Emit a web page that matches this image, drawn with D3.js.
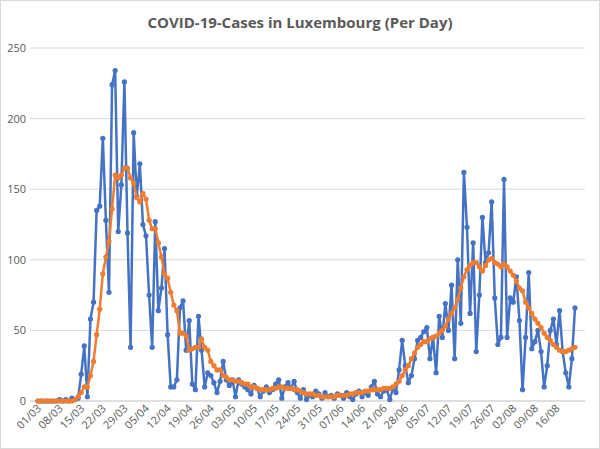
<!DOCTYPE html>
<html><head><meta charset="utf-8">
<script src="https://cdn.jsdelivr.net/npm/d3@7"></script>
<style>body{margin:0;background:#fff}svg{font-family:"Open Sans",Calibri,sans-serif}</style>
</head><body><svg id="c" width="600" height="449"></svg>
<script>
// daily new cases, starting 01/03
var cases = [0,0,0,0,0,0,0,1,0,1,0,2,1,2,
 19,39,3,58,70,135,138,186,128,77,224,234,120,153,226,119,38,190,145,168,125,117,75,38,127,64,80,108,47,10,10,15,
 66,71,36,57,12,8,60,36,10,20,18,13,6,14,28,15,11,15,3,15,
 12,10,8,5,11,9,3,7,10,6, 8,12,15,2,10,13,9,14,6,2, 8,1,4,3,7,5,2,6,3,4, 2,5,4,2,6,3,1,5,7,3, 6,4,10,14,5,3,7,
 8,1,9,6,22,43,25,13,18,30,43,45,49,52,30,45,20,60,45,69,50,82,30,100,55,162,123,62,112,35,75,130,98,105,141,73,40,45,157,45,73,70,88,57,8,45,91,37,42,50,35,10,25,50,58,40,64,35,20,10,30,66];
// smoothed (orange)
var avg = [0,0,0,0,0,0,0,0,0,0,0,0,1,
 3,6,10,10,18,28,47,65,
 90,102,113,136,160,158,160,165,165,158,
 154,144,141,147,143,128,122,122,112,102,
 90,87,77,68,64,48,48,46,36,37,
 38,38,44,38,36,28,25,22,22,18,
 17,15,15,14,14,13,12,12,10,10,
 9,8,8,8,8,9,9,10,10,9,
 9,9,8,8,7,6,5,5,5,4,
 4,3,3,3,3,3,4,4,4,4,
 5,5,6,6,6,7,7,8,8,8,
 8,9,9,9,10,12,14,18,22,25,
 30,34,38,40,42,42,44,45,46,48,
 50,53,58,62,66,72,80,88,93,96,
 98,98,95,92,96,100,101,98,97,95,
 97,95,92,89,85,80,78,70,66,62,
 58,55,52,48,45,43,40,38,36,35,
 35,36,37,38];
var tickLabels = ["01/03","08/03","15/03","22/03","29/03","05/04","12/04","19/04","26/04","03/05","10/05","17/05","24/05","31/05","07/06","14/06","21/06","28/06","05/07","12/07","19/07","26/07","02/08","09/08","16/08"];
var yTicks = [0,50,100,150,200,250];

var svg = d3.select("#c");
svg.append("rect").attr("x",0.5).attr("y",0.5).attr("width",599).attr("height",448).attr("fill","#fff").attr("stroke","#d9d9d9");
svg.append("text").attr("x",300).attr("y",28).attr("text-anchor","middle").attr("font-size",15).attr("font-weight","bold").attr("fill","#595959").text("COVID-19-Cases in Luxembourg (Per Day)");

var x = d3.scaleLinear().domain([0, 174]).range([38, 575]);
var y = d3.scaleLinear().domain([0, 250]).range([401, 48]);

svg.append("g").selectAll("line").data(yTicks).join("line")
  .attr("x1",30).attr("x2",585).attr("y1",d=>y(d)).attr("y2",d=>y(d))
  .attr("stroke",d=>d===0?"#bfbfbf":"#d9d9d9");
svg.append("g").selectAll("text").data(yTicks).join("text")
  .attr("x",26).attr("y",d=>y(d)+4).attr("text-anchor","end").attr("font-size",11).attr("fill","#595959").text(d=>d);
svg.append("g").selectAll("text").data(tickLabels).join("text")
  .attr("transform",(d,i)=>"translate("+(x(i*7)+4)+",409) rotate(-45)")
  .attr("text-anchor","end").attr("font-size",11).attr("fill","#595959").text(d=>d);

function series(vals, color) {
  var line = d3.line().x((d,i)=>x(i)).y(d=>y(d));
  svg.append("path").datum(vals).attr("d",line).attr("fill","none").attr("stroke",color).attr("stroke-width",2.5).attr("stroke-linejoin","round");
  svg.append("g").selectAll("circle").data(vals).join("circle")
    .attr("cx",(d,i)=>x(i)).attr("cy",d=>y(d)).attr("r",2.6).attr("fill",color);
}
series(cases, "#4472C4");
series(avg, "#ED7D31");
</script></body></html>
